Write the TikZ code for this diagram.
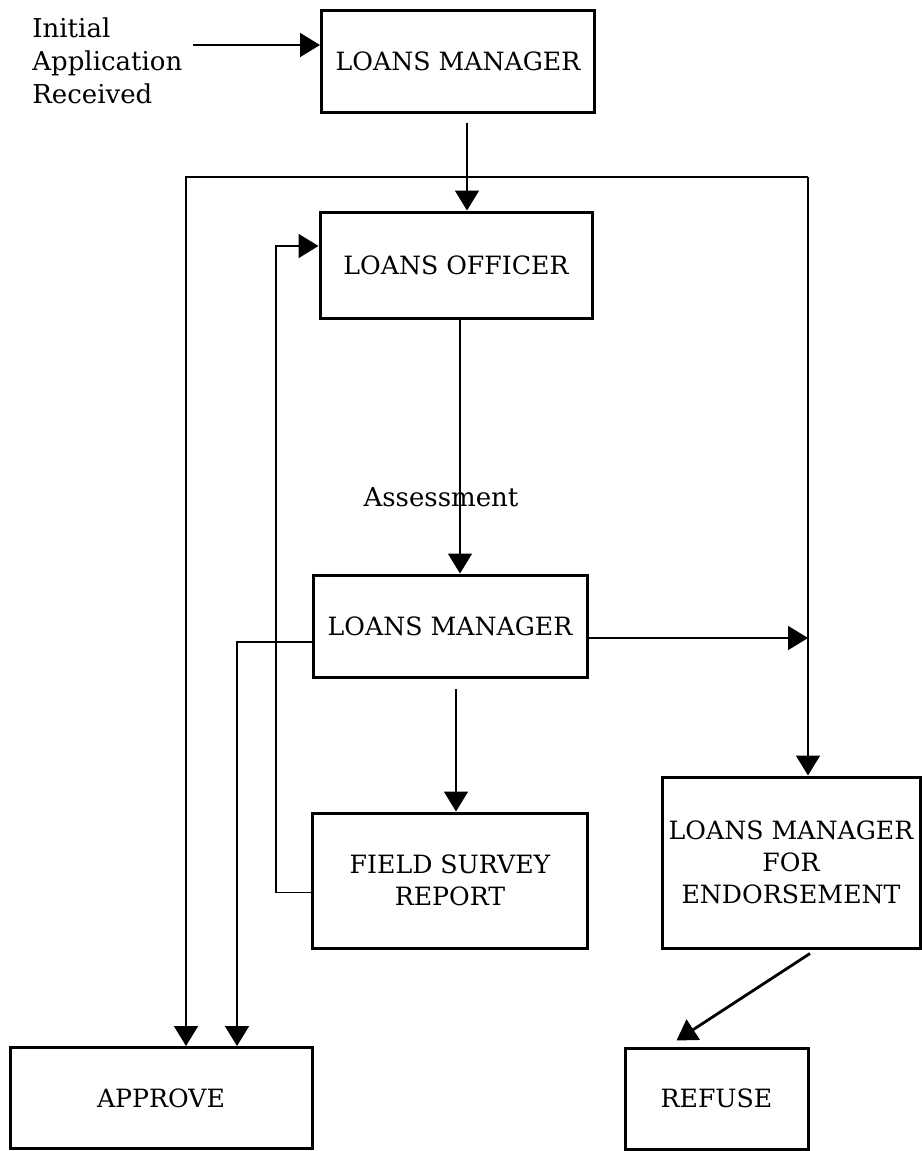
\documentclass[tikz,border=0pt]{standalone}
\usepackage{fontspec}
\setmainfont{DejaVu Serif}
\usetikzlibrary{positioning,arrows.meta}

\tikzset{
  box/.style={draw, line width=1.5pt, align=center, inner sep=2pt,
    font=\fontsize{12.6}{16}\selectfont},
  txt/.style={align=left, inner sep=0pt, font=\fontsize{13}{16.5}\selectfont},
  flow/.style={-{Triangle[length=10pt,width=12pt]}, line width=0.9pt},
}

\begin{document}
\begin{tikzpicture}[x=0.5pt,y=-0.5pt]
  \useasboundingbox (0,0) rectangle (921,1151);

  \node[box, minimum width=136.5pt, minimum height=51pt] (lm1) at (458,61) {LOANS MANAGER};
  \node[box, below=48.5pt of lm1, xshift=-1pt, minimum width=136pt, minimum height=53pt] (lo) {LOANS OFFICER};
  \node[box, below=127pt of lo, xshift=-3pt, minimum width=137pt, minimum height=51pt] (lm2) {LOANS MANAGER};
  \node[box, below=66.5pt of lm2, minimum width=137.5pt, minimum height=67.5pt] (fsr) {FIELD SURVEY\\REPORT};
  \node[box, minimum width=129pt, minimum height=85.5pt] (lmfe) at (791,862.5) {LOANS MANAGER\\FOR\\ENDORSEMENT};
  \node[box, minimum width=151pt, minimum height=50.5pt] (approve) at (161,1098) {APPROVE};
  \node[box, minimum width=91.5pt, minimum height=50.5pt] (refuse) at (716.5,1098.5) {REFUSE};

  \node[txt, anchor=west] (init) at (32,61) {Initial\\Application\\Received};
  \node[txt] (assess) at (441,497) {Assessment};

  \coordinate (in) at (193,45);
  \coordinate (jn) at (808,177);
  \coordinate (tl) at (186,177);
  \coordinate (a1) at ([xshift=4.5pt,yshift=-4.5pt]lm1.south);
  \coordinate (a2) at ([xshift=2pt]lo.south);
  \coordinate (a4) at ([xshift=3pt,yshift=-5pt]lm2.south);
  \coordinate (e2) at ([yshift=-6pt]lm2.east);
  \coordinate (lin) at ([yshift=9.5pt]lo.west);

  \draw[flow] (in) -- (in -| lm1.west);
  \draw[flow] (a1) -- (a1 |- lo.north);
  \draw[flow] (a2) -- (a2 |- lm2.north);
  \draw[flow] (a4) -- (a4 |- fsr.north);

  % loop round the right and the left
  \draw[flow] (e2) -- (e2 -| jn);
  \draw[flow] (jn) -- (jn |- lmfe.north);
  \draw[flow] (jn) -- (tl) -- (tl |- approve.north);

  \draw[flow] ([yshift=-8pt]lm2.west) -| ([xshift=38pt]approve.north);
  \draw[flow] ([yshift=-6pt]fsr.west) -- ++(-17.5pt,0) |- (lin);
  \draw[flow, line width=1.4pt] ([xshift=9.5pt,yshift=-2pt]lmfe.south) -- ([xshift=-20pt,yshift=3pt]refuse.north);
\end{tikzpicture}
\end{document}
